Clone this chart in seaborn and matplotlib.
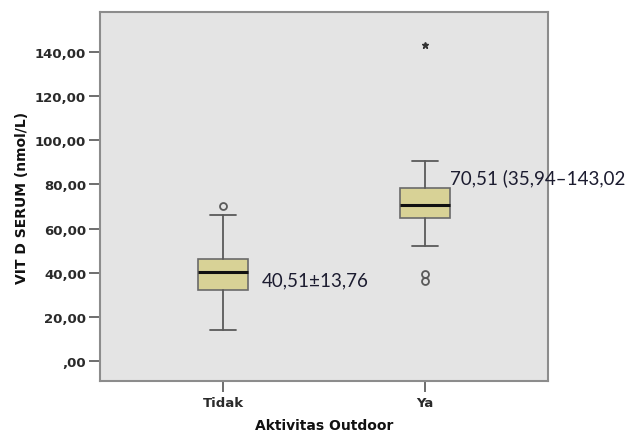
import matplotlib
matplotlib.use("Agg")
import matplotlib.pyplot as plt
import seaborn as sns

# Summary values
groups = ["Tidak", "Ya"]
whislo = [14.0, 51.9]
q1 = [32.1, 64.7]
median = [40.5, 70.5]
q3 = [46.2, 78.3]
whishi = [66.2, 90.8]
outliers = [[70.0], [39.6, 36.1]]
extremes = [[], [143.0]]
notes = ["40,51±13,76", "70,51 (35,94–143,02"]
note_y = [34.4, 80.7]
y_ticks = [0, 20, 40, 60, 80, 100, 120, 140]

sns.set_theme(style="white")
plt.rcParams["font.family"] = ["DejaVu Sans"]

fig = plt.figure(figsize=(6.29, 4.39), dpi=100)
ax = fig.add_axes([100 / 629, 1 - 382 / 439, 448 / 629, 369 / 439])
ax.set_facecolor("#e4e4e4")

stats = []
for i, g in enumerate(groups):
    stats.append(dict(label=g, whislo=whislo[i], q1=q1[i], med=median[i],
                      q3=q3[i], whishi=whishi[i], fliers=outliers[i]))

edge = "#5a5a5a"
ax.bxp(stats, positions=range(len(groups)), widths=0.25, capwidths=0.124,
       patch_artist=True,
       boxprops=dict(facecolor="#d8d296", edgecolor="#6a6a6a", linewidth=1.2),
       medianprops=dict(color="#111111", linewidth=2.2),
       whiskerprops=dict(color=edge, linewidth=1.3),
       capprops=dict(color=edge, linewidth=1.3),
       flierprops=dict(marker="o", markersize=5, markerfacecolor="none",
                       markeredgecolor=edge, markeredgewidth=1.3))

for i, ext in enumerate(extremes):
    if ext:
        ax.plot([i] * len(ext), ext, linestyle="none", marker="*",
                markersize=5, color="#333333")

# annotations next to the boxes
ax.text(0.193, note_y[0], notes[0], fontsize=13.5, family="Lato",
        color="#1c1c30", va="baseline", ha="left", clip_on=False)
ax.text(1.124, note_y[1], notes[1], fontsize=13.5, family="Lato",
        color="#1c1c30", va="baseline", ha="left", clip_on=False)

ax.set_xlim(-0.609, 1.609)
ax.set_ylim(-9.1, 158.1)
ax.set_yticks(y_ticks)
labels = []
for v in y_ticks:
    s = f"{v:.2f}".replace(".", ",")
    if v == 0:
        s = s[1:]
    labels.append(s)
ax.set_yticklabels(labels, fontweight="bold")
ax.set_xticks(range(len(groups)))
ax.set_xticklabels(groups, fontweight="bold")

ax.tick_params(axis="both", length=8, width=1.2, color="#555555",
               labelsize=9.5, labelcolor="#2a2a2a", pad=2)
ax.tick_params(axis="y", left=True)
ax.tick_params(axis="x", bottom=True, pad=3)

for sp in ax.spines.values():
    sp.set_color("#8c8c8c")
    sp.set_linewidth(1.5)

ax.set_xlabel("Aktivitas Outdoor", fontsize=10, fontweight="bold",
              color="#111111", labelpad=6)
ax.set_ylabel("VIT D SERUM (nmol/L)", fontsize=10, fontweight="bold",
              color="#111111", labelpad=4)

fig.savefig("out.png", dpi=100)
